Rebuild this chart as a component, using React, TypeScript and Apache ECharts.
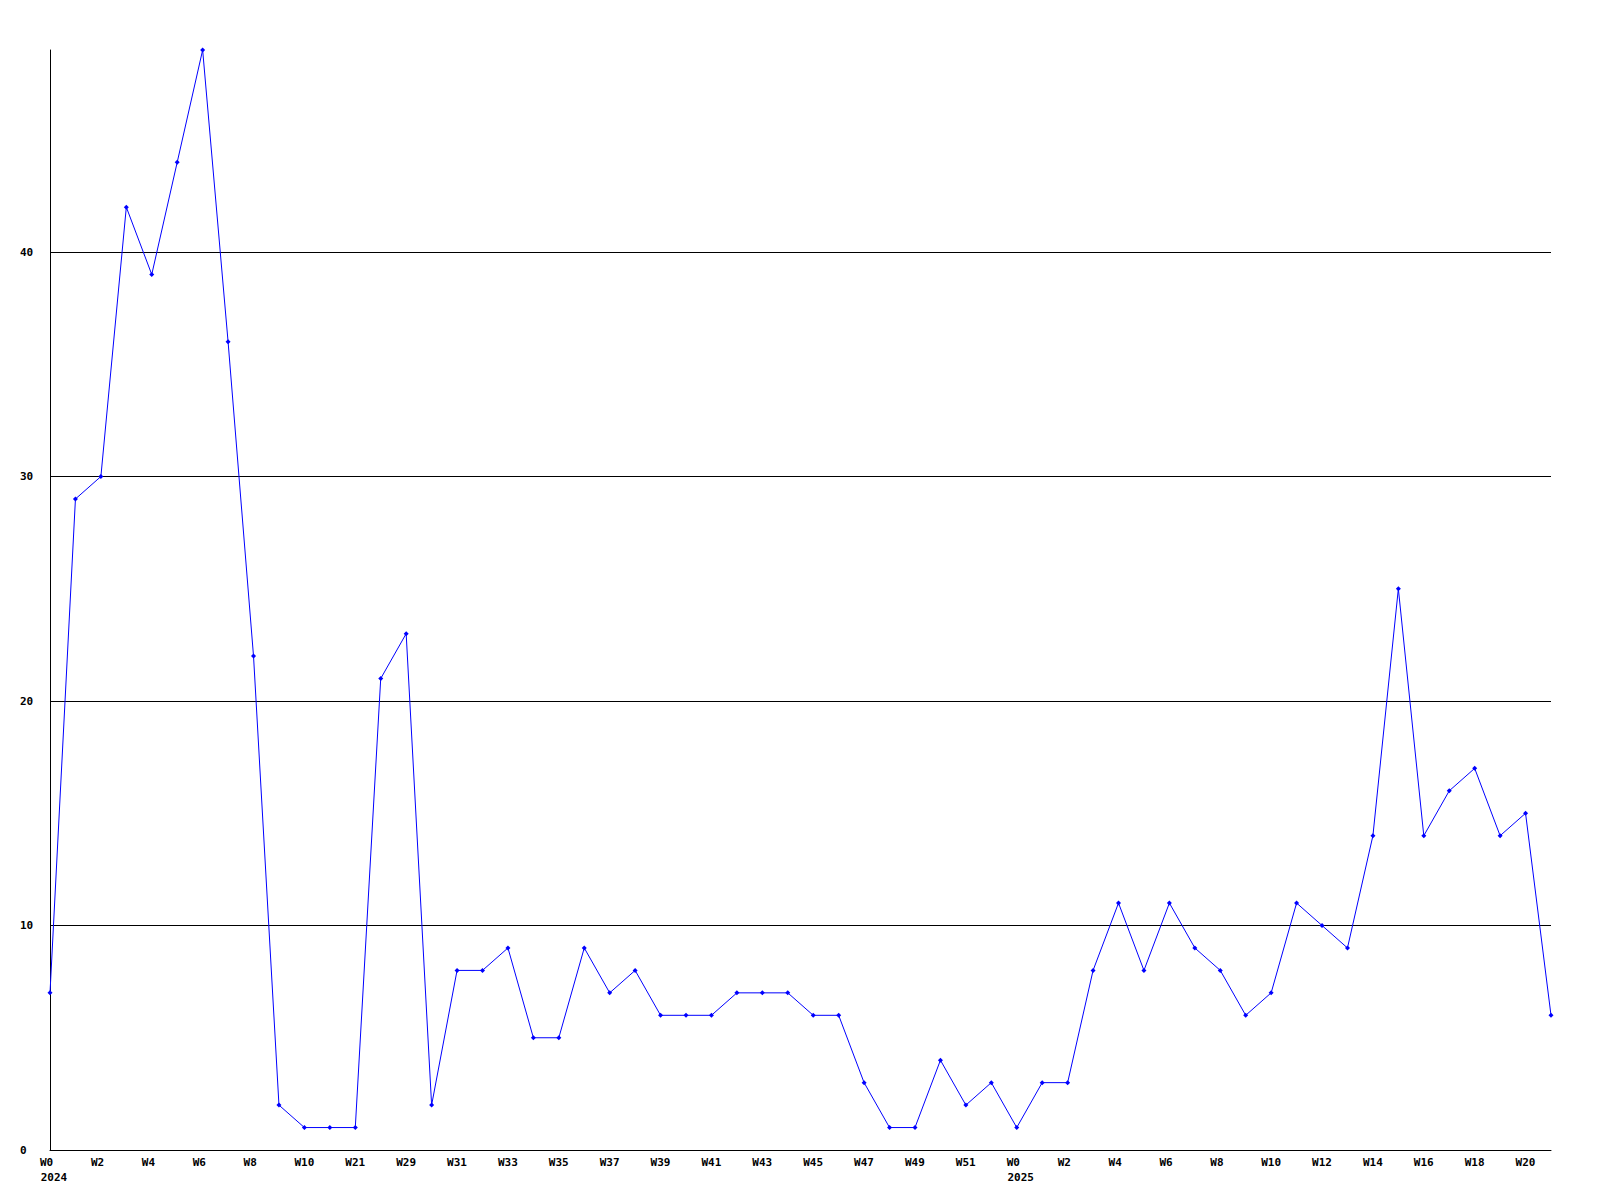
import React, { useEffect, useRef } from "react";
import * as echarts from "echarts";

const weeks2024: string[] = [
  "W0", "W1", "W2", "W3", "W4", "W5", "W6", "W7", "W8", "W9", "W10", "W20",
  "W21", "W28", "W29", "W30", "W31", "W32", "W33", "W34", "W35", "W36", "W37",
  "W38", "W39", "W40", "W41", "W42", "W43", "W44", "W45", "W46", "W47", "W48",
  "W49", "W50", "W51", "W52",
];
const weeks2025: string[] = [
  "W0", "W1", "W2", "W3", "W4", "W5", "W6", "W7", "W8", "W9", "W10", "W11",
  "W12", "W13", "W14", "W15", "W16", "W17", "W18", "W19", "W20", "W21",
];
const values: number[] = [
  7, 29, 30, 42, 39, 44, 49, 36, 22, 2, 1, 1, 1, 21, 23, 2, 8, 8, 9, 5, 5, 9,
  7, 8, 6, 6, 6, 7, 7, 7, 6, 6, 3, 1, 1, 4, 2, 3, 1, 3, 3, 8, 11, 8, 11, 9, 8,
  6, 7, 11, 10, 9, 14, 25, 14, 16, 17, 14, 15, 6,
];
const yTicks = { min: 0, max: 49, interval: 10 };

const categories = [...weeks2024, ...weeks2025];
const years = [
  ...weeks2024.map(() => "2024"),
  ...weeks2025.map(() => "2025"),
];

export default function App() {
  const ref = useRef<HTMLDivElement>(null);
  useEffect(() => {
    if (!ref.current) return;
    const chart = echarts.init(ref.current, null, { renderer: "svg" });
    const labelFont = {
      fontFamily: "DejaVu Sans Mono",
      fontWeight: "bold" as const,
      fontSize: 11,
      color: "#000",
    };
    chart.setOption({
      animation: false,
      backgroundColor: "#fff",
      grid: { left: 50, right: 49, top: 50, bottom: 50, containLabel: false },
      xAxis: [
        {
          type: "category",
          data: categories,
          boundaryGap: false,
          axisLine: { lineStyle: { color: "#000", width: 1 } },
          axisTick: { show: false },
          axisLabel: {
            ...labelFont,
            interval: 1,
            margin: 7,
            align: "center",
            formatter: (v: string) => "{w|" + v + "}",
            rich: {
              w: { ...labelFont, width: 20, align: "left" },
            },
          },
          splitLine: { show: false },
        },
        {
          type: "category",
          data: categories,
          position: "bottom",
          offset: 15,
          boundaryGap: false,
          axisLine: { show: false },
          axisTick: { show: false },
          axisLabel: {
            ...labelFont,
            interval: 0,
            margin: 7,
            align: "center",
            padding: [0, 0, 0, 8],
            formatter: (_v: string, i: number) =>
              i === 0 || years[i] !== years[i - 1] ? years[i] : "",
          },
          splitLine: { show: false },
        },
      ],
      yAxis: {
        type: "value",
        min: yTicks.min,
        max: yTicks.max,
        interval: yTicks.interval,
        axisLine: { show: true, lineStyle: { color: "#000", width: 1 } },
        axisTick: { show: false },
        axisLabel: { ...labelFont, align: "left", margin: 30, showMaxLabel: false },
        splitLine: {
          show: true,
          showMinLine: false,
          showMaxLine: false,
          lineStyle: { color: "#000", width: 1 },
        },
      },
      series: [
        {
          type: "line",
          xAxisIndex: 0,
          data: values,
          symbol: "diamond",
          symbolSize: 5,
          showAllSymbol: true,
          lineStyle: { color: "#0000ff", width: 1 },
          itemStyle: { color: "#0000ff" },
        },
      ],
    });
    return () => chart.dispose();
  }, []);
  return (
    <div
      ref={ref}
      style={{ position: "absolute", left: 0, top: 0, width: 1600, height: 1200 }}
    />
  );
}
